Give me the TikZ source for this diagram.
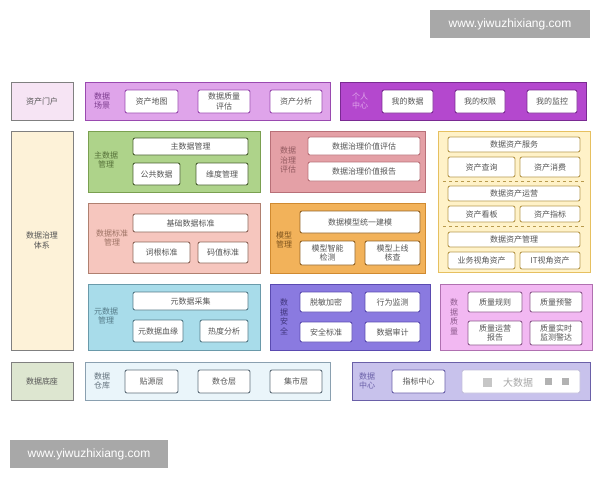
\documentclass[tikz,border=0pt]{standalone}
\usepackage{fontspec}
\setmainfont{Noto Sans CJK SC}
\newfontfamily\wmfont{Liberation Sans}
\usetikzlibrary{positioning}

\definecolor{txtgray}{HTML}{555555}
\definecolor{portalfill}{HTML}{F6E4F4}
\definecolor{scenefill}{HTML}{DFA4EA}
\definecolor{sceneline}{HTML}{9A4AB0}
\definecolor{userfill}{HTML}{B448CE}
\definecolor{userline}{HTML}{7A2A92}
\definecolor{sysfill}{HTML}{FDF2D8}
\definecolor{masterfill}{HTML}{AED38A}
\definecolor{masterline}{HTML}{7AA050}
\definecolor{evalfill}{HTML}{E4A0A6}
\definecolor{evalline}{HTML}{B87078}
\definecolor{assetfill}{HTML}{FFF2C8}
\definecolor{assetline}{HTML}{E6C060}
\definecolor{stdfill}{HTML}{F6C6BE}
\definecolor{stdline}{HTML}{B08070}
\definecolor{modelfill}{HTML}{F2B25A}
\definecolor{modelline}{HTML}{D08A30}
\definecolor{metafill}{HTML}{A8DCEA}
\definecolor{metaline}{HTML}{6A9AAA}
\definecolor{secfill}{HTML}{8A7AE0}
\definecolor{secline}{HTML}{5A4AB0}
\definecolor{qualfill}{HTML}{F2B8F2}
\definecolor{qualline}{HTML}{B070B0}
\definecolor{basefill}{HTML}{DDE6D0}
\definecolor{dwfill}{HTML}{EAF5FA}
\definecolor{dwline}{HTML}{8AA0B0}
\definecolor{dcfill}{HTML}{C8C2EC}
\definecolor{dcline}{HTML}{6A60A8}
\definecolor{wmgray}{HTML}{A8A8A8}

\newcommand{\itemfont}{\fontsize{8}{9.5}\selectfont}

\begin{document}
\begin{tikzpicture}[x=1pt,y=-1pt,
  panel/.style 2 args={draw=#1,fill=#2,line width=1pt,inner sep=0pt},
  item/.style={draw=#1,fill=white,rounded corners=2pt,line width=0.9pt,inner sep=0pt,
    font=\itemfont,text=txtgray,align=center},
  tag/.style={text=#1,font=\itemfont,align=center,inner sep=0pt},
  wh/.style 2 args={minimum width=#1pt,minimum height=#2pt},
  sepline/.style={draw=assetline!80!black,dashed,line width=0.9pt}]
  \fill[white] (0,0) rectangle (600,480);
  \useasboundingbox (0,0) rectangle (600,480);

  % row 1: portal
  \node[panel={gray}{portalfill},wh={62}{38},tag=txtgray] (portal) at (42,101) {资产门户};
  \node[panel={sceneline}{scenefill},wh={245}{38}] (scene) at (207.5,101) {};
  \node[tag=sceneline!80!black] (scenetag) at (102,101) {数据\\场景};
  \node[item=sceneline,wh={53}{23}] (amap) at (151.5,101.5) {资产地图};
  \node[item=sceneline,wh={52}{23}] (qeval) at (224,101.5) {数据质量\\评估};
  \node[item=sceneline,wh={52}{23}] (aana) at (296,101.5) {资产分析};
  \node[panel={userline}{userfill},wh={246}{38}] (user) at (463,101) {};
  \node[tag=scenefill] (usertag) at (360,101) {个人\\中心};
  \node[item=userline,wh={51}{23}] (mydata) at (407.5,101.5) {我的数据};
  \node[item=userline,wh={50}{23}] (myright) at (480,101.5) {我的权限};
  \node[item=userline,wh={50}{23}] (mymon) at (552,101.5) {我的监控};

  % governance system
  \node[panel={gray}{sysfill},wh={62}{219},tag=txtgray] (sys) at (42,240.5) {数据治理\\体系};

  % master data
  \node[panel={masterline}{masterfill},wh={172}{61}] (master) at (174,161.5) {};
  \node[tag=masterline!70!black] (mastertag) at (106,160) {主数据\\管理};
  \node[item=masterline!60!black,wh={115}{17}] (mdm) at (190.5,146.5) {主数据管理};
  \node[item=masterline!60!black,wh={47}{22}] (pub) at (156.5,174) {公共数据};
  \node[item=masterline!60!black,wh={52}{22}] (dim) at (222,174) {维度管理};

  % evaluation
  \node[panel={evalline}{evalfill},wh={155}{61}] (eval) at (347.5,161.5) {};
  \node[tag=evalline!80!black] (evaltag) at (288,160) {数据\\治理\\评估};
  \node[item=evalline,wh={112}{18}] (veval) at (364,146) {数据治理价值评估};
  \node[item=evalline,wh={112}{19}] (vrep) at (364,171.5) {数据治理价值报告};

  % data assets
  \node[panel={assetline}{assetfill},wh={152}{141}] (asset) at (514,201.5) {};
  \node[item=assetline!80!black,wh={132}{15}] (asvc) at (514,144.5) {数据资产服务};
  \node[item=assetline!80!black,wh={67}{20}] (qry) at (481.5,167) {资产查询};
  \node[item=assetline!80!black,wh={60}{20}] (cons) at (550,167) {资产消费};
  \draw[sepline] (443,181.5) -- (585,181.5);
  \node[item=assetline!80!black,wh={132}{15}] (aops) at (514,193.5) {数据资产运营};
  \node[item=assetline!80!black,wh={67}{16}] (board) at (481.5,214) {资产看板};
  \node[item=assetline!80!black,wh={60}{16}] (kpi) at (550,214) {资产指标};
  \draw[sepline] (443,226.5) -- (585,226.5);
  \node[item=assetline!80!black,wh={132}{15}] (amgr) at (514,239.5) {数据资产管理};
  \node[item=assetline!80!black,wh={67}{17}] (biz) at (481.5,260.5) {业务视角资产};
  \node[item=assetline!80!black,wh={60}{17}] (it) at (550,260.5) {IT视角资产};

  % data standard
  \node[panel={stdline}{stdfill},wh={172}{70}] (std) at (174,238) {};
  \node[tag=stdline!90!black] (stdtag) at (112,238) {数据标准\\管理};
  \node[item=stdline!80!black,wh={115}{18}] (basestd) at (190.5,223) {基础数据标准};
  \node[item=stdline!80!black,wh={57}{21}] (root) at (161.5,252.5) {词根标准};
  \node[item=stdline!80!black,wh={50}{21}] (code) at (223,252.5) {码值标准};

  % model
  \node[panel={modelline}{modelfill},wh={155}{70}] (model) at (347.5,238) {};
  \node[tag=modelline!60!black] (modeltag) at (284,240) {模型\\管理};
  \node[item=modelline!70!black,wh={120}{22}] (unify) at (360,222) {数据模型统一建模};
  \node[item=modelline!70!black,wh={55}{24}] (mcheck) at (327.5,253) {模型智能\\检测};
  \node[item=modelline!70!black,wh={55}{24}] (mlive) at (392.5,253) {模型上线\\核查};

  % metadata
  \node[panel={metaline}{metafill},wh={172}{66}] (meta) at (174,317) {};
  \node[tag=metaline!80!black] (metatag) at (106,316) {元数据\\管理};
  \node[item=metaline!80!black,wh={115}{18}] (collect) at (190.5,301) {元数据采集};
  \node[item=metaline!80!black,wh={50}{22}] (lineage) at (158,331) {元数据血缘};
  \node[item=metaline!80!black,wh={48}{22}] (heat) at (224,331) {热度分析};

  % security
  \node[panel={secline}{secfill},wh={160}{66}] (sec) at (350,317) {};
  \node[tag=secline!70!black] (sectag) at (284,317) {数\\据\\安\\全};
  \node[item=secline,wh={52}{20}] (mask) at (326,302) {脱敏加密};
  \node[item=secline,wh={55}{20}] (behav) at (392.5,302) {行为监测};
  \node[item=secline,wh={52}{20}] (secstd) at (326,332) {安全标准};
  \node[item=secline,wh={55}{20}] (audit) at (392.5,332) {数据审计};

  % quality
  \node[panel={qualline}{qualfill},wh={152}{66}] (qual) at (516,317) {};
  \node[tag=qualline!80!black] (qualtag) at (454,317) {数\\据\\质\\量};
  \node[item=qualline!80!black,wh={54}{20}] (qrule) at (495,302) {质量规则};
  \node[item=qualline!80!black,wh={52}{20}] (qwarn) at (556,302) {质量预警};
  \node[item=qualline!80!black,wh={54}{24}] (qops) at (495,333) {质量运营\\报告};
  \node[item=qualline!80!black,wh={52}{24}] (qlive) at (556,333) {质量实时\\监测警达};

  % row 5: base
  \node[panel={gray}{basefill},wh={62}{38},tag=txtgray] (base) at (42,381) {数据底座};
  \node[panel={dwline}{dwfill},wh={245}{38}] (dw) at (207.5,381) {};
  \node[tag=dwline!70!black] (dwtag) at (102,381) {数据\\仓库};
  \node[item=dwline!70!black,wh={53}{23}] (ods) at (151.5,381.5) {贴源层};
  \node[item=dwline!70!black,wh={52}{23}] (dwd) at (224,381.5) {数仓层};
  \node[item=dwline!70!black,wh={52}{23}] (mart) at (296,381.5) {集市层};
  \node[panel={dcline}{dcfill},wh={238}{38}] (dc) at (471,381) {};
  \node[tag=dcline] (dctag) at (367,381) {数据\\中心};
  \node[item=dcline,wh={53}{23}] (kpic) at (418.5,381.5) {指标中心};
  \node[item=dcline!40,wh={118}{23}] (blur) at (521,381.5) {};
  \fill[gray!45] (483,378) rectangle (492,387);
  \fill[gray!60] (545,378) rectangle (552,385);
  \fill[gray!60] (562,378) rectangle (569,385);
  \node[tag=gray!70,font=\fontsize{10}{12}\selectfont] (blurtxt) at (518,383) {大数据};

  % watermarks
  \node[fill=wmgray,wh={160}{28},text=white,font=\wmfont\fontsize{12}{14}\selectfont] (wmtop) at (510,24) {www.yiwuzhixiang.com};
  \node[fill=wmgray,wh={158}{28},text=white,font=\wmfont\fontsize{12}{14}\selectfont] (wmbot) at (89,454) {www.yiwuzhixiang.com};
\end{tikzpicture}
\end{document}
